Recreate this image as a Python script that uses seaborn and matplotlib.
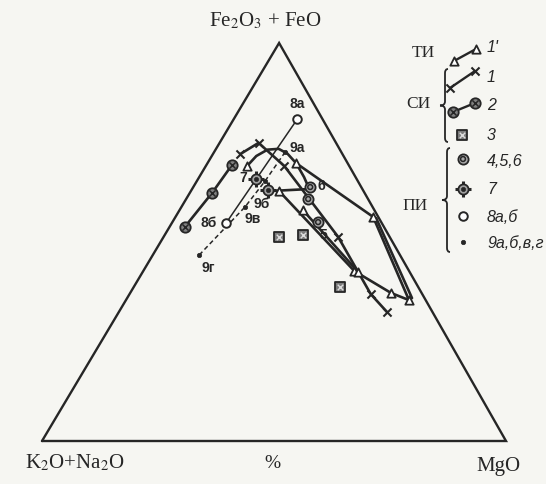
import numpy as np
import matplotlib
matplotlib.use("Agg")
import matplotlib.pyplot as plt
import matplotlib.transforms as mtransforms
from matplotlib.path import Path
from matplotlib.patches import PathPatch
import seaborn as sns

# AFM compositions, %:  F = Fe2O3+FeO,  M = MgO,  K2O+Na2O = 100 - F - M
# ТИ (1') - open triangles joined by lines
ti_arc_F = [69.1, 71.6, 73.2, 73.4, 72.2, 69.8, 66.3, 63.6]
ti_arc_M = [8.9, 9.6, 11.2, 13.5, 16.0, 19.1, 22.6, 25.0]
ti_loop_F = [62.8, 42.7, 37.2, 35.4, 56.3, 69.8]
ti_loop_M = [19.0, 45.5, 56.2, 61.0, 42.6, 19.1]
ti_bar_F = [62.8, 63.3]
ti_bar_M = [17.1, 25.2]
ti_inner_F = [58.0, 42.5]
ti_inner_M = [26.6, 46.4]
ti_rim_F = [56.0, 35.9]
ti_rim_M = [43.4, 61.4]
ti_pts_F = [69.1, 69.8, 62.8, 58.0, 56.3, 42.7, 42.5, 37.2, 35.4]
ti_pts_M = [8.9, 19.1, 19.0, 26.6, 42.6, 45.5, 46.4, 56.2, 61.0]

# СИ 1 - crosses joined by a line
si1_F = [72.1, 74.9, 69.1, 51.3, 36.9, 32.4]
si1_M = [5.9, 8.4, 16.9, 37.6, 52.0, 57.8]
# СИ 2 - crossed circles joined by a line
si2_F = [53.8, 62.3, 69.3]
si2_M = [3.3, 4.8, 5.5]
# СИ 3 - crossed squares
si3_F = [51.3, 51.8, 38.7]
si3_M = [24.9, 29.8, 44.5]

# ПИ 4,5,6
pi456_F = [63.8, 60.8, 55.0]
pi456_M = [25.2, 26.3, 31.4]
pi456_lab = ["6", "", "5"]
# ПИ 7
pi7_F = [65.8, 63.1]
pi7_M = [12.5, 16.5]
# ПИ 8а,б
pi8_F = [80.9, 54.8]
pi8_M = [13.7, 11.7]
pi8_lab = ["8а", "8б"]
# ПИ 9а,б,в,г
pi9_F = [72.6, 65.3, 58.8, 46.7]
pi9_M = [15.3, 14.7, 13.7, 10.0]
pi9_lab = ["9а", "9б", "9в", "9г"]

legend_groups = ["ТИ", "СИ", "ПИ"]
legend_labels = ["1'", "1", "2", "3", "4,5,6", "7", "8а,б", "9а,б,в,г"]

INK = "#262626"
PAPER = "#f6f6f2"
W, H = 546, 484
APEX_SHIFT = 0.511   # horizontal position of the F apex along the base

sns.set_theme(style="white")
plt.rcParams["font.family"] = ["Liberation Serif", "DejaVu Serif"]
plt.rcParams["mathtext.fontset"] = "stix"


def cart(F, M):
    F = np.asarray(F, float)
    M = np.asarray(M, float)
    return M + F * APEX_SHIFT, F * np.sqrt(3) / 2.0


fig = plt.figure(figsize=(W / 100, H / 100), dpi=100, facecolor=PAPER)
ax = fig.add_axes([0, 0, 1, 1])
ax.set_facecolor(PAPER)
sx, sy = 4.64, 4.596
ax.set_xlim(-42 / sx, (W - 42) / sx)
ax.set_ylim(-(H - 441) / sy, 441 / sy)
ax.axis("off")

# pixel-space transform for the key on the right
pix = mtransforms.Affine2D().scale(1 / W, -1 / H).translate(0, 1) + fig.transFigure

# triangle frame
tx, ty = cart([0, 0, 100, 0], [0, 100, 0, 0])
ax.plot(tx, ty, color=INK, lw=1.7, solid_joinstyle="miter", zorder=2)


def line(F, M, **kw):
    x, y = cart(F, M)
    sns.lineplot(x=x, y=y, sort=False, estimator=None, color=INK, ax=ax,
                 legend=False, zorder=3, **kw)


def scat(F, M, **kw):
    x, y = cart(F, M)
    sns.scatterplot(x=x, y=y, ax=ax, legend=False, zorder=5, **kw)


STYLES = {
    "tri": [dict(marker="^", s=36, color="white", edgecolor=INK, linewidth=1.3)],
    "cross": [dict(marker="x", s=34, color=INK, linewidth=1.5)],
    "otimes": [dict(marker="o", s=56, color="#808080", edgecolor=INK, linewidth=1.3),
               dict(marker="x", s=20, color=INK, linewidth=1.1)],
    "boxx": [dict(marker="s", s=52, color="#7c7c7c", edgecolor=INK, linewidth=1.3),
             dict(marker="x", s=16, color="#dcdcdc", linewidth=1.0)],
    "ocirc": [dict(marker="o", s=54, color="#a8a8a8", edgecolor=INK, linewidth=1.3),
              dict(marker="o", s=12, color="none", edgecolor=INK, linewidth=1.1)],
    "spike": [dict(marker="+", s=140, color=INK, linewidth=2.2),
              dict(marker="o", s=54, color="#a0a0a0", edgecolor=INK, linewidth=1.3),
              dict(marker="o", s=9, color=INK, edgecolor=INK, linewidth=0.5)],
    "open": [dict(marker="o", s=38, color="white", edgecolor=INK, linewidth=1.4)],
    "dot": [dict(marker="o", s=10, color=INK, edgecolor=INK, linewidth=0.5)],
}


def marks(F, M, kind):
    for st in STYLES[kind]:
        scat(F, M, **st)


def key_mark(px, py, kind):
    for st in STYLES[kind]:
        st = dict(st)
        c = st.pop("color")
        ec = st.pop("edgecolor", c)
        lw = st.pop("linewidth")
        if st["marker"] in ("x", "+"):
            ax.scatter(px, py, transform=pix, color=c, linewidths=lw,
                       clip_on=False, zorder=6, **st)
        else:
            ax.scatter(px, py, transform=pix, facecolor=c, edgecolor=ec,
                       linewidths=lw, clip_on=False, zorder=6, **st)


# ТИ
for F, M in [(ti_arc_F, ti_arc_M), (ti_loop_F, ti_loop_M), (ti_bar_F, ti_bar_M),
             (ti_inner_F, ti_inner_M), (ti_rim_F, ti_rim_M)]:
    line(F, M, lw=1.9)
marks(ti_pts_F, ti_pts_M, "tri")

# СИ
line(si1_F, si1_M, lw=1.9)
marks(si1_F, si1_M, "cross")
line(si2_F, si2_M, lw=1.9)
marks(si2_F, si2_M, "otimes")
marks(si3_F, si3_M, "boxx")

# ПИ
line(pi8_F, pi8_M, lw=1.1)
line(pi9_F, pi9_M, lw=1.1, linestyle=(0, (3, 2)))
marks(pi456_F, pi456_M, "ocirc")
marks(pi7_F, pi7_M, "spike")
marks(pi8_F, pi8_M, "open")
marks(pi9_F, pi9_M, "dot")

lab_kw = dict(textcoords="offset pixels", fontsize=10, fontweight="bold",
              family=["Liberation Sans", "DejaVu Sans"], color=INK,
              ha="center", va="center", zorder=7)
px8, py8 = cart(pi8_F, pi8_M)
for x, y, t, off in zip(px8, py8, pi8_lab, [(0, 15), (-18, 0)]):
    ax.annotate(t, (x, y), xytext=off, **lab_kw)
px9, py9 = cart(pi9_F, pi9_M)
for x, y, t, off in zip(px9, py9, pi9_lab, [(12, 4), (-3, -23), (8, -12), (9, -13)]):
    ax.annotate(t, (x, y), xytext=off, **lab_kw)
p4x, p4y = cart(pi456_F, pi456_M)
for x, y, t, off in zip(p4x, p4y, pi456_lab, [(11, 1), (0, 0), (5, -13)]):
    if t:
        ax.annotate(t, (x, y), xytext=off, **lab_kw)
p7x, p7y = cart(pi7_F, pi7_M)
ax.annotate("7", (p7x[0], p7y[0]), xytext=(-13, 1), **lab_kw)

# vertex captions
ax.text(265, 21, "Fe$_2$O$_3$ + FeO", transform=pix, ha="center", va="center",
        fontsize=15, color=INK)
ax.text(75, 463, "K$_2$O+Na$_2$O", transform=pix, ha="center", va="center",
        fontsize=15, color=INK)
ax.text(272, 464, "%", transform=pix, ha="center", va="center",
        fontsize=14, color=INK)
ax.text(498, 466, "MgO", transform=pix, ha="center", va="center",
        fontsize=15, color=INK)

# key
grp_kw = dict(transform=pix, ha="center", va="center", fontsize=12.5, color=INK)
ax.text(423, 53, legend_groups[0], **grp_kw)
ax.text(418, 104, legend_groups[1], **grp_kw)
ax.text(415, 206, legend_groups[2], **grp_kw)


def brace(x, y0, y1, depth=5):
    ym = (y0 + y1) / 2
    verts = [(x + 3, y0), (x, y0), (x, y0 + 4), (x, ym - 4),
             (x, ym), (x - depth, ym), (x - depth, ym),
             (x, ym), (x, ym + 4), (x, y1 - 4), (x, y1), (x + 3, y1)]
    codes = [Path.MOVETO, Path.CURVE3, Path.CURVE3, Path.LINETO,
             Path.CURVE3, Path.CURVE3, Path.MOVETO,
             Path.CURVE3, Path.CURVE3, Path.LINETO, Path.CURVE3, Path.CURVE3]
    ax.add_patch(PathPatch(Path(verts, codes), transform=pix, fill=False,
                           edgecolor=INK, lw=1.3, clip_on=False))


brace(445, 69, 142)
brace(447, 148, 252)

ax.plot([454, 476], [61, 49], transform=pix, color=INK, lw=1.7, clip_on=False)
key_mark([454, 476], [61, 49], "tri")
ax.plot([450, 475], [88, 71], transform=pix, color=INK, lw=1.7, clip_on=False)
key_mark([450, 475], [88, 71], "cross")
ax.plot([453, 475], [112, 103], transform=pix, color=INK, lw=1.7, clip_on=False)
key_mark([453, 475], [112, 103], "otimes")
key_mark([462], [135], "boxx")
key_mark([463], [159], "ocirc")
key_mark([463], [189], "spike")
key_mark([463], [216], "open")
key_mark([463], [242], "dot")

item_kw = dict(transform=pix, ha="left", va="center", fontsize=11.5,
               style="italic", family=["Liberation Sans", "DejaVu Sans"], color=INK)
for t, yy in zip(legend_labels, [48, 77, 106, 135, 162, 189, 217, 244]):
    ax.text(487, yy, t, **item_kw)

fig.savefig("out.png", dpi=100, facecolor=PAPER)
